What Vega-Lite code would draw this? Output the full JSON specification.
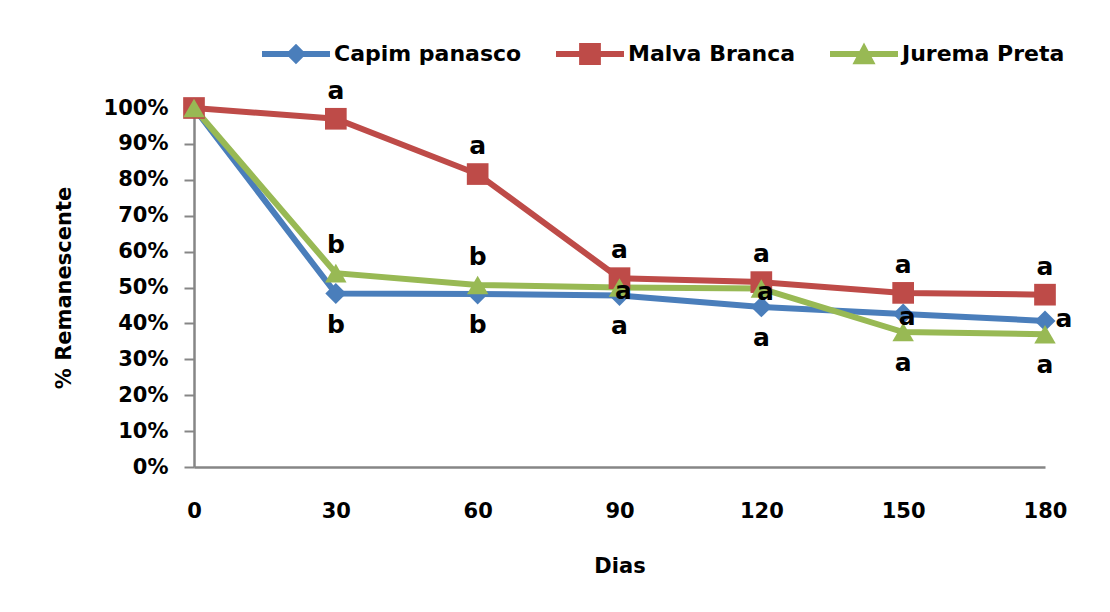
{
  "$schema": "https://vega.github.io/schema/vega-lite/v6.json",
  "autosize": {"type": "none"},
  "width": 851,
  "height": 359,
  "padding": {"left": 194, "top": 108, "right": 65, "bottom": 145},
  "background": "white",
  "config": {
    "view": {"stroke": null},
    "font": "DejaVu Sans",
    "axis": {"labelFont": "DejaVu Sans", "titleFont": "DejaVu Sans", "labelColor": "black", "titleColor": "black", "labelFontWeight": "bold", "titleFontWeight": "bold"}
  },
  "data": {
    "values": [
      {"serie": "Capim panasco", "dia": 0, "valor": 1.0, "letra": "", "pos": ""},
      {"serie": "Capim panasco", "dia": 30, "valor": 0.483, "letra": "b", "pos": "abaixo"},
      {"serie": "Capim panasco", "dia": 60, "valor": 0.482, "letra": "b", "pos": "abaixo"},
      {"serie": "Capim panasco", "dia": 90, "valor": 0.478, "letra": "a", "pos": "abaixo"},
      {"serie": "Capim panasco", "dia": 120, "valor": 0.446, "letra": "a", "pos": "abaixo"},
      {"serie": "Capim panasco", "dia": 150, "valor": 0.426, "letra": "a", "pos": "sobre"},
      {"serie": "Capim panasco", "dia": 180, "valor": 0.407, "letra": "a", "pos": "direita"},
      {"serie": "Malva Branca", "dia": 0, "valor": 1.0, "letra": "", "pos": ""},
      {"serie": "Malva Branca", "dia": 30, "valor": 0.97, "letra": "a", "pos": "acima"},
      {"serie": "Malva Branca", "dia": 60, "valor": 0.816, "letra": "a", "pos": "acima"},
      {"serie": "Malva Branca", "dia": 90, "valor": 0.526, "letra": "a", "pos": "acima"},
      {"serie": "Malva Branca", "dia": 120, "valor": 0.515, "letra": "a", "pos": "acima"},
      {"serie": "Malva Branca", "dia": 150, "valor": 0.485, "letra": "a", "pos": "acima"},
      {"serie": "Malva Branca", "dia": 180, "valor": 0.48, "letra": "a", "pos": "acima"},
      {"serie": "Jurema Preta", "dia": 0, "valor": 1.0, "letra": "", "pos": ""},
      {"serie": "Jurema Preta", "dia": 30, "valor": 0.54, "letra": "b", "pos": "acima"},
      {"serie": "Jurema Preta", "dia": 60, "valor": 0.507, "letra": "b", "pos": "acima"},
      {"serie": "Jurema Preta", "dia": 90, "valor": 0.5, "letra": "a", "pos": "sobre"},
      {"serie": "Jurema Preta", "dia": 120, "valor": 0.497, "letra": "a", "pos": "sobre"},
      {"serie": "Jurema Preta", "dia": 150, "valor": 0.376, "letra": "a", "pos": "abaixo"},
      {"serie": "Jurema Preta", "dia": 180, "valor": 0.37, "letra": "a", "pos": "abaixo"}
    ]
  },
  "encoding": {
    "x": {
      "field": "dia", "type": "quantitative",
      "scale": {"domain": [0, 180], "nice": false, "zero": true},
      "axis": {
        "title": "Dias", "values": [0, 30, 60, 90, 120, 150, 180], "labelFlush": false,
        "ticks": false, "grid": false, "domainColor": "#868686", "domainWidth": 2.5,
        "labelFontSize": 21, "labelPadding": 33, "titleFontSize": 21, "titlePadding": 34
      }
    },
    "y": {
      "field": "valor", "type": "quantitative",
      "scale": {"domain": [0, 1], "nice": false},
      "axis": {
        "title": "% Remanescente", "format": ".0%", "values": [0, 0.1, 0.2, 0.3, 0.4, 0.5, 0.6, 0.7, 0.8, 0.9, 1.0],
        "grid": false, "domainColor": "#868686", "domainWidth": 2.5,
        "tickColor": "#868686", "tickWidth": 2, "tickSize": 10, "labelFlush": false,
        "labelFontSize": 21, "labelPadding": 16, "titleFontSize": 21, "titlePadding": 29
      }
    },
    "color": {
      "field": "serie", "type": "nominal",
      "scale": {"domain": ["Capim panasco", "Malva Branca", "Jurema Preta"], "range": ["#4A7EBB", "#BE4B48", "#98B954"]},
      "legend": {
        "title": null, "orient": "none", "legendX": 68, "legendY": -88,
        "direction": "horizontal", "columns": 3, "columnPadding": 34, "padding": 0,
        "symbolSize": 4624, "symbolType": "M-1,-0.09H1V0.09H-1Z M0,-0.3L0.3,0L0,0.3L-0.3,0Z",
        "labelFont": "DejaVu Sans", "labelFontWeight": "bold", "labelFontSize": 22,
        "labelColor": "black", "labelOffset": 4, "labelLimit": 400,
        "encode": {
          "symbols": {
            "update": {
              "shape": {"signal": "datum.value === 'Capim panasco' ? 'M-1,-0.09H1V0.09H-1Z M0,-0.3L0.3,0L0,0.3L-0.3,0Z' : datum.value === 'Malva Branca' ? 'M-1,-0.09H1V0.09H-1Z M-0.32,-0.32H0.32V0.32H-0.32Z' : 'M-1,-0.09H1V0.09H-1Z M0,-0.34L0.34,0.3L-0.34,0.3Z'"},
              "fill": {"scale": "color", "field": "value"},
              "fillOpacity": {"value": 1},
              "strokeWidth": {"value": 0},
              "opacity": {"value": 1}
            }
          }
        }
      }
    }
  },
  "layer": [
    {
      "mark": {"type": "line", "strokeWidth": 6}
    },
    {
      "transform": [{"filter": "datum.serie === 'Capim panasco'"}],
      "mark": {"type": "point", "filled": true, "opacity": 1, "size": 440, "shape": "diamond"}
    },
    {
      "transform": [{"filter": "datum.serie === 'Malva Branca'"}],
      "mark": {"type": "point", "filled": true, "opacity": 1, "size": 470, "shape": "square"}
    },
    {
      "transform": [{"filter": "datum.serie === 'Jurema Preta'"}],
      "mark": {"type": "point", "filled": true, "opacity": 1, "size": 460, "shape": "triangle-up"}
    },
    {
      "transform": [{"filter": "datum.pos === 'acima'"}],
      "mark": {"type": "text", "dy": -28, "fontSize": 25, "fontWeight": "bold", "font": "DejaVu Sans", "baseline": "middle"},
      "encoding": {"text": {"field": "letra"}, "color": {"value": "black"}}
    },
    {
      "transform": [{"filter": "datum.pos === 'abaixo'"}],
      "mark": {"type": "text", "dy": 31, "fontSize": 25, "fontWeight": "bold", "font": "DejaVu Sans", "baseline": "middle"},
      "encoding": {"text": {"field": "letra"}, "color": {"value": "black"}}
    },
    {
      "transform": [{"filter": "datum.pos === 'sobre'"}],
      "mark": {"type": "text", "dy": 3, "dx": 4, "fontSize": 25, "fontWeight": "bold", "font": "DejaVu Sans", "baseline": "middle"},
      "encoding": {"text": {"field": "letra"}, "color": {"value": "black"}}
    },
    {
      "transform": [{"filter": "datum.pos === 'direita'"}],
      "mark": {"type": "text", "dy": -2, "dx": 19, "fontSize": 25, "fontWeight": "bold", "font": "DejaVu Sans", "baseline": "middle"},
      "encoding": {"text": {"field": "letra"}, "color": {"value": "black"}}
    }
  ]
}
